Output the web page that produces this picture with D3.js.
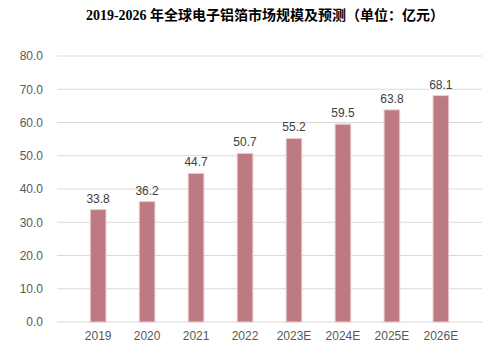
<!DOCTYPE html>
<html lang="zh">
<head>
<meta charset="UTF-8">
<title>全球电子铝箔市场规模</title>
<script src="https://d3js.org/d3.v7.min.js"></script>
<style>
  body { margin: 0; background: #fff; }
</style>
</head>
<body>
<div id="chart"></div>
<script>
// data
var years = ["2019", "2020", "2021", "2022", "2023E", "2024E", "2025E", "2026E"];
var market = [33.8, 36.2, 44.7, 50.7, 55.2, 59.5, 63.8, 68.1];
var yTicks = [0, 10, 20, 30, 40, 50, 60, 70, 80];

var width = 503, height = 351;
var margin = { top: 56, right: 21, bottom: 29, left: 57 };

var svg = d3.select("#chart").append("svg")
    .attr("width", width)
    .attr("height", height);

svg.append("text")
    .attr("x", 265)
    .attr("y", 20)
    .attr("text-anchor", "middle")
    .style("font-family", "'Liberation Serif', 'Noto Sans CJK SC', serif")
    .style("font-weight", "bold")
    .style("font-size", "14px")
    .style("fill", "#000")
    .text("2019-2026 年全球电子铝箔市场规模及预测（单位：亿元）");

var x = d3.scaleBand()
    .domain(years)
    .range([margin.left, width - margin.right])
    .padding(0.68);

var y = d3.scaleLinear()
    .domain([0, 80])
    .range([height - margin.bottom, margin.top]);

// gridlines
svg.append("g")
    .selectAll("line")
    .data(yTicks)
    .join("line")
    .attr("x1", margin.left)
    .attr("x2", width - margin.right)
    .attr("y1", d => y(d))
    .attr("y2", d => y(d))
    .attr("stroke", "#d9d9d9")
    .attr("stroke-width", 1);

// y axis labels
var yAxis = svg.append("g")
    .attr("transform", "translate(" + margin.left + ",0)")
    .call(d3.axisLeft(y).tickValues(yTicks).tickFormat(d3.format(".1f")).tickSize(0).tickPadding(14));
yAxis.select(".domain").remove();
yAxis.selectAll("text")
    .style("font-family", "'Liberation Sans', Arial, sans-serif")
    .style("font-size", "12px")
    .style("fill", "#595959");

// x axis labels
var xAxis = svg.append("g")
    .attr("transform", "translate(0," + (height - margin.bottom) + ")")
    .call(d3.axisBottom(x).tickSize(0).tickPadding(9));
xAxis.select(".domain").remove();
xAxis.selectAll("text")
    .style("font-family", "'Liberation Sans', Arial, sans-serif")
    .style("font-size", "12px")
    .style("fill", "#595959");

// bars
svg.append("g")
    .selectAll("rect")
    .data(market)
    .join("rect")
    .attr("x", (d, i) => x(years[i]))
    .attr("y", d => y(d))
    .attr("width", x.bandwidth())
    .attr("height", d => y(0) - y(d))
    .attr("fill", "#be7a83")
    .attr("stroke", "#ebccd0")
    .attr("stroke-width", 1);

// value labels
svg.append("g")
    .selectAll("text")
    .data(market)
    .join("text")
    .attr("x", (d, i) => x(years[i]) + x.bandwidth() / 2)
    .attr("y", d => y(d) - 7)
    .attr("text-anchor", "middle")
    .style("font-family", "'Liberation Sans', Arial, sans-serif")
    .style("font-size", "12px")
    .style("fill", "#404040")
    .text(d => d.toFixed(1));
</script>
</body>
</html>
